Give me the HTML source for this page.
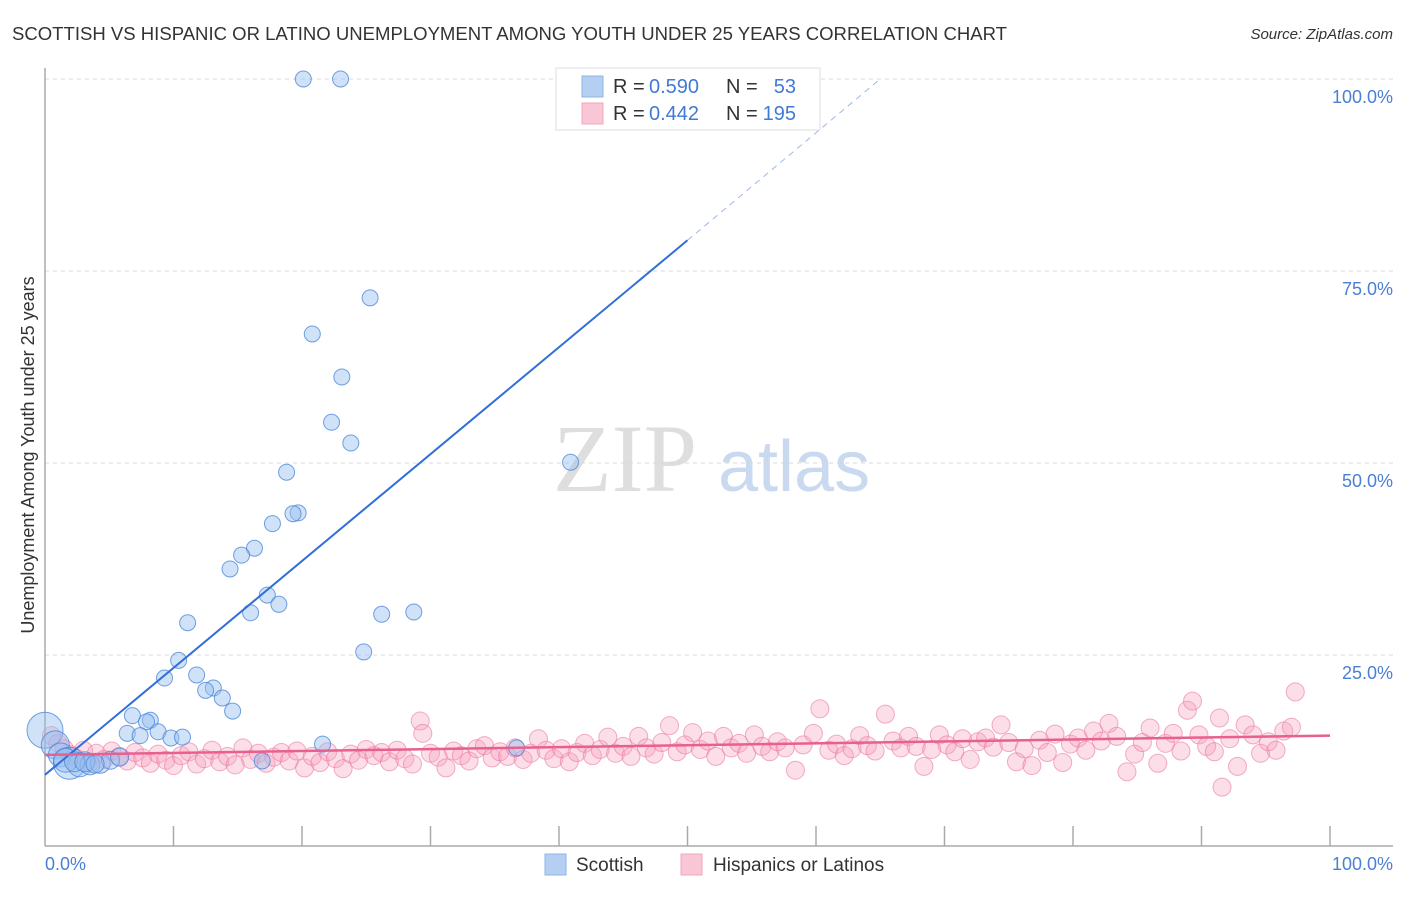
<!DOCTYPE html>
<html><head><meta charset="utf-8"><style>
body{margin:0;background:#fff;font-family:"Liberation Sans",sans-serif;}
svg text{font-family:"Liberation Sans",sans-serif;}
</style></head><body>
<svg id="chart" width="1406" height="892" xmlns="http://www.w3.org/2000/svg">
<text x="12" y="40" font-size="18" fill="#333" textLength="995" lengthAdjust="spacingAndGlyphs">SCOTTISH VS HISPANIC OR LATINO UNEMPLOYMENT AMONG YOUTH UNDER 25 YEARS CORRELATION CHART</text>
<text x="1393" y="39" font-size="15" fill="#333" font-style="italic" text-anchor="end">Source: ZipAtlas.com</text>
<g>
<text x="553" y="491" font-size="96" fill="#dedede" font-family="Liberation Serif" style="font-family:'Liberation Serif',serif">ZIP</text>
<text x="718" y="491" font-size="72" fill="#c9d9f0">atlas</text>
</g>
<g id="grid"></g>
<g id="axes"></g>
<g id="pink"></g>
<g id="blue"></g>
<g id="lines"></g>
<text transform="translate(34,455) rotate(-90)" font-size="18" fill="#333" text-anchor="middle">Unemployment Among Youth under 25 years</text>
<text x="45" y="870" font-size="18" fill="#4a7fd4">0.0%</text>
<text x="1393" y="870" font-size="18" fill="#4a7fd4" text-anchor="end">100.0%</text>
<g>
<rect x="556" y="68" width="264" height="62" fill="#fff" stroke="#ddd"/>
<rect x="582" y="76" width="21" height="21" fill="#b5cff3" stroke="#8fb4ea"/>
<rect x="582" y="103" width="21" height="21" fill="#f9c6d5" stroke="#f0a7be"/>
<text x="613" y="93" font-size="20" fill="#333">R =</text>
<text x="649" y="93" font-size="20" fill="#3f7bd6">0.590</text>
<text x="726" y="93" font-size="20" fill="#333">N =</text>
<text x="796" y="93" font-size="20" fill="#3f7bd6" text-anchor="end">53</text>
<text x="613" y="120" font-size="20" fill="#333">R =</text>
<text x="649" y="120" font-size="20" fill="#3f7bd6">0.442</text>
<text x="726" y="120" font-size="20" fill="#333">N =</text>
<text x="796" y="120" font-size="20" fill="#3f7bd6" text-anchor="end">195</text>
</g>
<g>
<rect x="545" y="854" width="21" height="21" fill="#b5cff3" stroke="#8fb4ea"/>
<text x="576" y="871" font-size="19" fill="#333">Scottish</text>
<rect x="681" y="854" width="21" height="21" fill="#f9c6d5" stroke="#f0a7be"/>
<text x="713" y="871" font-size="19" fill="#333">Hispanics or Latinos</text>
</g>
</svg>
<script>
const yTicks=[25,50,75,100];
const yTickLabels=["25.0%","50.0%","75.0%","100.0%"];
const xTicks=[10,20,30,40,50,60,70,80,90,100];
const blueX=[20.1,23.0,25.3,20.8,23.1,22.3,23.8,40.9,18.8,17.7,19.7,19.3,16.3,15.3,14.4,17.3,18.2,16.0,26.2,28.7,24.8,11.1,10.4,9.3,11.8,13.1,12.5,13.8,14.6,6.8,8.2,7.9,6.4,7.4,8.8,9.8,10.7,21.6,36.7,16.9,0,0.8,1.2,1.9,2.7,3.5,4.3,5.1,5.8,1.6,2.3,3.1,3.9];
const blueY=[100,100,71.5,66.8,61.2,55.3,52.6,50.1,48.8,42.1,43.5,43.4,38.9,38.0,36.2,32.8,31.6,30.5,30.3,30.6,25.4,29.2,24.3,22.0,22.4,20.7,20.4,19.4,17.7,17.1,16.5,16.3,14.8,14.5,15.0,14.2,14.3,13.4,12.9,11.2,15.2,13.3,12.0,10.9,10.7,10.7,10.9,11.3,11.7,11.3,11.1,11.1,10.8];
const blueR=[8,8,8,8,8,8,8,8,8,8,8,8,8,8,8,8,8,8,8,8,8,8,8,8,8,8,8,8,8,8,8,8,8,8,8,8,8,8,8,8,18,14,12,16,12,10,10,9,9,12,10,10,9];
const pinkX=[0.5,1,1.5,2,2.5,3,3.5,4,4.6,5.2,5.8,6.4,7,7.6,8.2,8.8,9.4,10,10.6,11.2,11.8,12.4,13,13.6,14.2,14.8,15.4,16,16.6,17.2,17.8,18.4,19,19.6,20.2,20.8,21.4,22,22.6,23.2,23.8,24.4,25,25.6,26.2,26.8,27.4,28,28.6,29.2,29.4,30,30.6,31.2,31.8,32.4,33,33.6,34.2,34.8,35.4,36,36.6,37.2,37.8,38.4,39,39.6,40.2,40.8,41.4,42,42.6,43.2,43.8,44.4,45,45.6,46.2,46.8,47.4,48,48.6,49.2,49.8,50.4,51,51.6,52.2,52.8,53.4,54,54.6,55.2,55.8,56.4,57,57.6,58.4,59,59.8,60.3,61,61.6,62.2,62.8,63.4,64,64.6,65.4,66,66.6,67.2,67.8,68.4,69,69.6,70.2,70.8,71.4,72,72.6,73.2,73.8,74.4,75,75.6,76.2,76.8,77.4,78,78.6,79.2,79.8,80.4,81,81.6,82.2,82.8,83.4,84.2,84.8,85.4,86,86.6,87.2,87.8,88.4,88.9,89.3,89.8,90.4,91,91.4,91.6,92.2,92.8,93.4,94,94.6,95.2,95.8,96.4,97,97.3];
const pinkY=[14.5,13.5,12.8,12,11.5,12.6,11,12.2,11.4,12.5,11.8,11.2,12.3,11.6,10.9,12.1,11.3,10.6,11.9,12.4,10.8,11.5,12.6,11.1,11.8,10.7,12.9,11.4,12.2,10.9,11.7,12.3,11.2,12.5,10.3,11.8,11.0,12.4,11.5,10.2,12.1,11.3,12.7,11.9,12.3,11.1,12.6,11.5,10.8,16.4,14.8,12.2,11.7,10.3,12.5,11.9,11.2,12.8,13.2,11.6,12.4,11.8,12.9,11.4,12.2,14.1,12.6,11.5,12.8,11.1,12.3,13.5,11.9,12.7,14.3,12.2,13.1,11.8,14.4,12.9,12.1,13.6,15.8,12.4,13.3,14.9,12.7,13.8,11.8,14.4,12.9,13.5,12.2,14.6,13.1,12.4,13.7,12.9,10.0,13.3,14.8,18.0,12.6,13.4,11.9,12.8,14.5,13.2,12.5,17.3,13.8,12.9,14.4,13.1,10.5,12.7,14.6,13.3,12.4,14.1,11.4,13.7,14.2,13.0,15.9,13.6,11.1,12.8,10.6,13.9,12.3,14.7,11.0,13.4,14.2,12.6,15.1,13.8,16.1,14.4,9.8,12.1,13.6,15.5,10.9,13.5,14.8,12.5,17.8,19.0,14.6,13.1,12.4,16.8,7.8,14.1,10.5,15.9,14.6,12.2,13.7,12.6,15.1,15.6,20.2];
const blueLine=[0,9.4,50,79.0];
const blueDash=[50,79.0,65,100];
const pinkLine=[0,12.0,100,14.5];

const NS="http://www.w3.org/2000/svg";
const X0=45,X1=1330,Y0=847,Y100=79;
function sx(v){return X0+(X1-X0)*v/100;}
function sy(v){return Y0-(Y0-Y100)*v/100;}
function mk(tag,attrs,parent){const e=document.createElementNS(NS,tag);for(const k in attrs)e.setAttribute(k,attrs[k]);document.getElementById(parent).appendChild(e);return e;}

yTicks.forEach((t,i)=>{
  const g=mk('line',{x1:X0,x2:1393,y1:sy(t),y2:sy(t),stroke:'#d8d8d8','stroke-dasharray':'4,4'},'grid');
  
  
  const tx=mk('text',{x:1393,y:sy(t)+24,'font-size':18,fill:'#4a7fd4','text-anchor':'end'},'grid');
  tx.textContent=yTickLabels[i];
  
  
});
const ax=mk('line',{x1:X0,x2:X0,y1:68,y2:846,stroke:'#aaa','stroke-width':1.5},'axes');


const bx=mk('line',{x1:X0,x2:1393,y1:846,y2:846,stroke:'#aaa','stroke-width':1.5},'axes');


xTicks.forEach(t=>{
  const k=mk('line',{x1:sx(t),x2:sx(t),y1:826,y2:846,stroke:'#aaa','stroke-width':1.5},'axes');
  
  
});
pinkX.forEach((v,i)=>{
  const c=mk('circle',{cx:sx(v),cy:sy(pinkY[i]),r:9,fill:'rgba(245,160,190,0.35)',stroke:'rgba(235,120,160,0.6)','stroke-width':1},'pink');
  
  
});
blueX.forEach((v,i)=>{
  const c=mk('circle',{cx:sx(v),cy:sy(blueY[i]),r:blueR[i],fill:'rgba(150,190,240,0.45)',stroke:'rgba(70,130,215,0.75)','stroke-width':1},'blue');
  
  
});
const l1=mk('line',{x1:sx(blueLine[0]),y1:sy(blueLine[1]),x2:sx(blueLine[2]),y2:sy(blueLine[3]),stroke:'#2f6fd6','stroke-width':2},'lines');


const l2=mk('line',{x1:sx(blueDash[0]),y1:sy(blueDash[1]),x2:sx(blueDash[2]),y2:sy(blueDash[3]),stroke:'#9bb8e6','stroke-width':1,'stroke-dasharray':'6,5'},'lines');


const l3=mk('line',{x1:sx(pinkLine[0]),y1:sy(pinkLine[1]),x2:sx(pinkLine[2]),y2:sy(pinkLine[3]),stroke:'#e8608f','stroke-width':2.5},'lines');


</script>
</body></html>
